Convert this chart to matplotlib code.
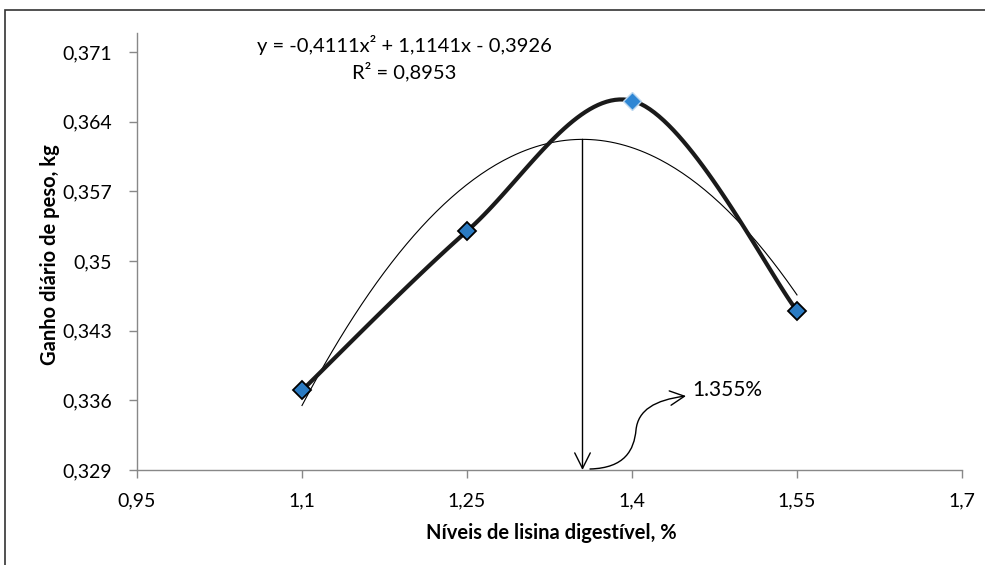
import numpy as np
import matplotlib.pyplot as plt
from matplotlib.path import Path
from matplotlib.patches import FancyArrowPatch, Rectangle

plt.rcParams['font.family'] = ['Lato', 'DejaVu Sans']

# dados
lisina = [1.10, 1.25, 1.40, 1.55]
ganho = [0.3370, 0.3530, 0.3661, 0.3450]
coef = [-0.4111, 1.1141, -0.3926]   # tendência polinomial (ordem 2)
x_ticks = [0.95, 1.1, 1.25, 1.4, 1.55, 1.7]
x_labels = ['0,95', '1,1', '1,25', '1,4', '1,55', '1,7']
y_ticks = [0.329, 0.336, 0.343, 0.35, 0.357, 0.364, 0.371]
y_labels = ['0,329', '0,336', '0,343', '0,35', '0,357', '0,364', '0,371']
x_otimo = 1.355

XMIN, XMAX = 0.95, 1.7
YMIN, YMAX = 0.329, 0.3729
# escala aproximada em pixels para suavizar como o Excel
SX, SY = 1100.0, 9957.0


def excel_smooth(xs, ys, n=40):
    """Curva suavizada tipo Excel (Bezier com tangentes Catmull-Rom)."""
    p = np.column_stack([(np.array(xs) - XMIN) * SX, (np.array(ys) - YMIN) * SY])
    out = []
    for i in range(len(p) - 1):
        p0 = p[i - 1] if i > 0 else p[i]
        p1, p2 = p[i], p[i + 1]
        p3 = p[i + 2] if i + 2 < len(p) else p[i + 1]
        c1 = p1 + (p2 - p0) / 6.0
        c2 = p2 - (p3 - p1) / 6.0
        t = np.linspace(0, 1, n)[:, None]
        seg = ((1 - t) ** 3) * p1 + 3 * ((1 - t) ** 2) * t * c1 \
            + 3 * (1 - t) * t ** 2 * c2 + t ** 3 * p2
        out.append(seg)
    pts = np.vstack(out)
    return pts[:, 0] / SX + XMIN, pts[:, 1] / SY + YMIN


def px(xp, yp):
    """pixel da imagem -> coordenadas dos dados"""
    return ((xp - 137) / SX + XMIN, (470 - yp) / SY + YMIN)


fig = plt.figure(figsize=(9.85, 5.65), dpi=100)
ax = fig.add_axes([137 / 985, 1 - 470 / 565, 825 / 985, (470 - 33) / 565])

# moldura externa
fig.patches.append(Rectangle((5 / 985, -0.1), 1.2, 1 - 10 / 565 + 0.1,
                             transform=fig.transFigure, fill=False,
                             edgecolor='#333333', linewidth=1.2))

# linha de tendência
xt = np.linspace(1.1, 1.55, 200)
ax.plot(xt, np.polyval(coef, xt), color='black', linewidth=0.8, zorder=2)

# linha suavizada
xs, ys = excel_smooth(lisina, ganho)
ax.plot(xs, ys, color='#1a1a1a', linewidth=3.0, zorder=3, solid_capstyle='round')

# marcadores
for i, (x, y) in enumerate(zip(lisina, ganho)):
    if i == 2:
        ax.plot(x, y, marker='D', markersize=9.5, color='#2e86d4',
                markeredgecolor='#bcd8f0', markeredgewidth=1.0, zorder=4)
    else:
        ax.plot(x, y, marker='D', markersize=9.5, color='#2b7bc2',
                markeredgecolor='black', markeredgewidth=1.3, zorder=4)

# seta vertical no ponto ótimo
y_max = np.polyval(coef, x_otimo)
ax.annotate('', xy=(x_otimo, YMIN), xytext=(x_otimo, y_max),
            arrowprops=dict(arrowstyle='->', color='black', lw=1.0,
                            mutation_scale=28, shrinkA=0, shrinkB=0),
            zorder=5)

# seta curva para o rótulo
verts = [px(590, 469), px(625, 468), px(634, 450), px(636, 430),
         px(638, 410), px(655, 400), px(686, 396)]
codes = [Path.MOVETO] + [Path.CURVE4] * 6
ax.add_patch(FancyArrowPatch(path=Path(verts, codes), arrowstyle='->',
                             mutation_scale=26, color='black', lw=1.0, zorder=5))
ax.text(*px(692, 390), '1.355%', fontsize=15, va='center', ha='left')

# equação
ax.text(*px(404, 45), 'y = -0,4111x² + 1,1141x - 0,3926',
        fontsize=14.5, ha='center', va='center')
ax.text(*px(404, 71), 'R² = 0,8953',
        fontsize=14.5, ha='center', va='center')

ax.set_xlim(XMIN, XMAX)
ax.set_ylim(YMIN, YMAX)
ax.set_xticks(x_ticks)
ax.set_xticklabels(x_labels)
ax.set_yticks(y_ticks)
ax.set_yticklabels(y_labels)
ax.tick_params(axis='both', colors='#888888', labelcolor='black',
               labelsize=14, length=6, width=1)
ax.tick_params(axis='x', pad=10)
ax.tick_params(axis='y', pad=12)
for s in ['top', 'right']:
    ax.spines[s].set_visible(False)
for s in ['left', 'bottom']:
    ax.spines[s].set_color('#888888')
    ax.spines[s].set_linewidth(1.0)

fig.text(551 / 985, 1 - 533 / 565, 'Níveis de lisina digestível, %',
         fontsize=14.5, fontweight='bold', ha='center', va='center')
fig.text(50 / 985, 1 - 255 / 565, 'Ganho diário de peso, kg',
         fontsize=14.5, fontweight='bold', ha='center', va='center',
         rotation=90)

fig.savefig('out.png', dpi=100)
